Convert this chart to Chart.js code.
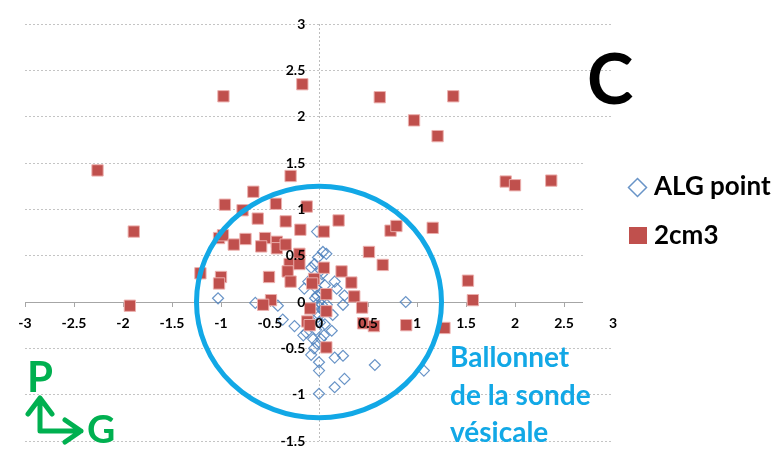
<!DOCTYPE html>
<html>
<head>
<meta charset="utf-8">
<script src="https://cdn.jsdelivr.net/npm/chart.js@4/dist/chart.umd.min.js"></script>
<style>
  html, body { margin: 0; padding: 0; background: #fff; overflow: hidden; }
  canvas { display: block; }
</style>
</head>
<body>
<canvas id="chart" width="781" height="450"></canvas>
<script>
// Series names
const seriesNames = ['ALG point', '2cm3'];

// ALG point positions [x, y]
const algPoint = [
  [-0.02, 0.76], [0.04, 0.54], [0.075, 0.52], [-0.01, 0.48], [-0.045, 0.41],
  [-0.08, 0.37], [0.02, 0.34], [0.03, 0.30], [0.0, 0.24], [-0.11, 0.22],
  [0.06, 0.18], [-0.15, 0.145], [-0.03, 0.15], [0.16, 0.22], [0.18, 0.145],
  [0.26, 0.07], [0.02, 0.10], [-0.02, 0.07], [-0.04, 0.04], [0.0, 0.0],
  [0.03, -0.03], [0.08, -0.03], [0.0, -0.05], [-0.42, -0.04], [-0.65, -0.01],
  [-1.03, 0.04], [0.245, -0.03], [0.885, 0.0], [-0.37, -0.19], [-0.25, -0.26],
  [-0.16, -0.36], [-0.13, -0.33], [0.06, -0.24], [0.13, -0.31], [0.14, -0.14],
  [0.04, -0.08], [-0.02, -0.12], [-0.01, -0.16], [0.01, -0.22], [-0.03, -0.30],
  [0.05, -0.36], [0.02, -0.40], [-0.06, -0.40], [-0.02, -0.45], [-0.05, -0.50],
  [-0.08, -0.57], [0.0, -0.65], [0.16, -0.60], [0.245, -0.58], [0.0, -0.74],
  [0.26, -0.83], [0.16, -0.92], [0.0, -0.99], [0.57, -0.68], [1.07, -0.74]
];

// 2cm3 positions [x, y]
const cm3 = [
  [-2.26, 1.42], [-1.89, 0.76], [-1.93, -0.04], [-1.21, 0.31], [-0.975, 2.22],
  [-0.17, 2.35], [-0.29, 1.36], [-0.67, 1.19], [0.62, 2.21], [1.37, 2.22],
  [0.97, 1.96], [1.21, 1.79], [1.905, 1.30], [2.0, 1.26], [2.37, 1.31],
  [0.20, 0.88], [0.73, 0.77], [0.79, 0.82], [1.16, 0.80], [0.51, 0.54],
  [0.65, 0.40], [0.23, 0.33], [0.33, 0.21], [0.36, 0.06], [0.44, -0.06],
  [1.52, 0.23], [1.57, 0.02], [0.45, -0.23], [0.56, -0.26], [0.89, -0.25],
  [1.28, -0.28], [-0.96, 1.05], [-0.78, 0.99], [-0.44, 1.06], [-0.125, 1.03],
  [-0.625, 0.90], [-0.34, 0.87], [-0.19, 0.78], [0.05, 0.76], [-1.02, 0.69],
  [-0.98, 0.72], [-0.87, 0.62], [-0.75, 0.68], [-0.55, 0.69], [-0.59, 0.60],
  [-0.43, 0.65], [-0.43, 0.58], [-0.34, 0.62], [-0.20, 0.52], [-1.0, 0.27],
  [-1.02, 0.20], [-0.51, 0.27], [-0.30, 0.41], [-0.20, 0.41], [-0.32, 0.33],
  [-0.29, 0.22], [0.05, 0.37], [-0.05, 0.25], [-0.07, 0.20], [0.075, 0.085],
  [-0.49, 0.02], [-0.57, -0.03], [-0.09, -0.07], [0.075, -0.10], [-0.12, -0.21],
  [-0.095, -0.25], [0.075, -0.49]
];

// Axis ticks
const xTicks = [-3, -2.5, -2, -1.5, -1, -0.5, 0, 0.5, 1, 1.5, 2, 2.5, 3];
const yTicks = [-1.5, -1, -0.5, 0, 0.5, 1, 1.5, 2, 2.5, 3];

// Annotations
const panelLetter = 'C';
const balloonRadius = 1.25;
const balloonLabel = ['Ballonnet', 'de la sonde', 'vésicale'];
const axisLetters = ['P', 'G'];

// y labels sit just left of the vertical axis
const yLabelAnchorX = -0.14;

const BLUE_RING = '#12A8E6';
const GREEN = '#00B050';
const ALG_COLOR = 'rgba(79,129,189,0.85)';
const CM3_FILL = '#C0504D';
const CM3_EDGE = 'rgba(236,176,174,0.95)';
const FONT = 'Lato, "Open Sans", sans-serif';

const toXY = (arr) => arr.map(([x, y]) => ({ x, y }));
const plainLabel = (v) => String(v);

// Balloon ring, drawn over the markers
const balloonRing = {
  id: 'balloonRing',
  afterDatasetsDraw(chart) {
    const { ctx, scales: { x, y } } = chart;
    const cx = x.getPixelForValue(0);
    const cy = y.getPixelForValue(0);
    const rx = Math.abs(x.getPixelForValue(balloonRadius) - cx);
    const ry = Math.abs(y.getPixelForValue(balloonRadius) - cy);
    ctx.save();
    ctx.beginPath();
    ctx.ellipse(cx, cy, rx, ry, 0, 0, Math.PI * 2);
    ctx.lineWidth = 5;
    ctx.strokeStyle = BLUE_RING;
    ctx.stroke();
    ctx.restore();
  }
};

// Legend panel, panel letter, balloon caption and orientation arrows
const decorations = {
  id: 'decorations',
  afterDraw(chart) {
    const ctx = chart.ctx;
    ctx.save();

    // legend panel
    ctx.fillStyle = '#fff';
    ctx.fillRect(583, 140, 198, 169);
    ctx.textBaseline = 'alphabetic';
    ctx.textAlign = 'left';
    ctx.font = 'bold 26px ' + FONT;

    // ALG point marker (outlined diamond)
    ctx.beginPath();
    ctx.moveTo(637.5, 178.5);
    ctx.lineTo(646.5, 187.5);
    ctx.lineTo(637.5, 196.5);
    ctx.lineTo(628.5, 187.5);
    ctx.closePath();
    ctx.lineWidth = 1.5;
    ctx.strokeStyle = ALG_COLOR;
    ctx.stroke();
    ctx.fillStyle = '#000';
    ctx.fillText(seriesNames[0], 654, 195);

    // 2cm3 marker (filled square)
    ctx.fillStyle = CM3_FILL;
    ctx.fillRect(629, 227, 18, 17);
    ctx.fillStyle = '#000';
    ctx.fillText(seriesNames[1], 654, 244);

    // panel letter
    ctx.font = 'bold 70px ' + FONT;
    ctx.fillText(panelLetter, 587, 104);

    // balloon caption
    ctx.fillStyle = BLUE_RING;
    ctx.font = 'bold 28px ' + FONT;
    balloonLabel.forEach((line, i) => ctx.fillText(line, 450, 367 + i * 37.5));

    // orientation arrows
    ctx.strokeStyle = GREEN;
    ctx.fillStyle = GREEN;
    ctx.lineWidth = 5;
    ctx.lineCap = 'round';
    ctx.lineJoin = 'round';
    ctx.beginPath();
    ctx.moveTo(40, 431);
    ctx.lineTo(40, 398);
    ctx.moveTo(28, 414);
    ctx.lineTo(40, 398);
    ctx.lineTo(52, 414);
    ctx.moveTo(40, 431);
    ctx.lineTo(81, 431);
    ctx.moveTo(65, 420);
    ctx.lineTo(81, 431);
    ctx.lineTo(65, 442);
    ctx.stroke();

    ctx.font = 'bold 42px ' + FONT;
    ctx.fillText(axisLetters[0], 27, 392);
    ctx.font = 'bold 39px ' + FONT;
    ctx.fillText(axisLetters[1], 87, 443);

    ctx.restore();
  }
};

function build() {
  new Chart(document.getElementById('chart'), {
    type: 'scatter',
    data: {
      datasets: [
        {
          label: seriesNames[0],
          data: toXY(algPoint),
          pointStyle: 'rectRot',
          pointRadius: 5.5,
          pointHoverRadius: 5.5,
          borderColor: ALG_COLOR,
          backgroundColor: 'rgba(0,0,0,0)',
          borderWidth: 1.2,
          order: 2
        },
        {
          label: seriesNames[1],
          data: toXY(cm3),
          pointStyle: 'rect',
          pointRadius: 8,
          pointHoverRadius: 8,
          backgroundColor: CM3_FILL,
          borderColor: CM3_EDGE,
          borderWidth: 1,
          order: 1
        }
      ]
    },
    options: {
      responsive: false,
      animation: false,
      devicePixelRatio: 1,
      layout: { padding: { left: 25, right: 168, top: 24, bottom: 1.6 } },
      plugins: { legend: { display: false }, tooltip: { enabled: false } },
      scales: {
        x: {
          type: 'linear',
          position: { y: 0 },
          min: -3,
          max: 3,
          afterBuildTicks: (s) => { s.ticks = xTicks.map((v) => ({ value: v })); },
          afterFit: (s) => { s.paddingLeft = 0; s.paddingRight = 0; },
          grid: {
            color: (c) => (c.tick && c.tick.value === 0 ? '#BDBDBD' : 'rgba(0,0,0,0)'),
            lineWidth: 1,
            tickColor: '#A6A6A6',
            tickLength: 4,
            drawTicks: true
          },
          border: { display: true, color: '#A6A6A6', width: 1, dash: [2, 2] },
          ticks: {
            callback: plainLabel,
            color: '#000',
            font: { family: FONT, size: 14, weight: 'bold', lineHeight: 2.1 },
            maxRotation: 0,
            autoSkip: false,
            z: 1
          }
        },
        y: {
          type: 'linear',
          position: { x: yLabelAnchorX },
          min: -1.5,
          max: 3,
          afterBuildTicks: (s) => { s.ticks = yTicks.map((v) => ({ value: v })); },
          afterFit: (s) => { s.paddingTop = 0; s.paddingBottom = 0; },
          grid: { color: '#C4C4C4', lineWidth: 1, drawTicks: false },
          border: { display: false, dash: [2, 2] },
          ticks: {
            callback: plainLabel,
            color: '#000',
            font: { family: FONT, size: 14, weight: 'bold' },
            autoSkip: false,
            z: 1
          }
        }
      }
    },
    plugins: [balloonRing, decorations]
  });
}

const fontLoads = ['bold 14px Lato', 'bold 26px Lato', 'bold 70px Lato'].map((f) => document.fonts.load(f));
Promise.all(fontLoads).then(build, build);
</script>
</body>
</html>
